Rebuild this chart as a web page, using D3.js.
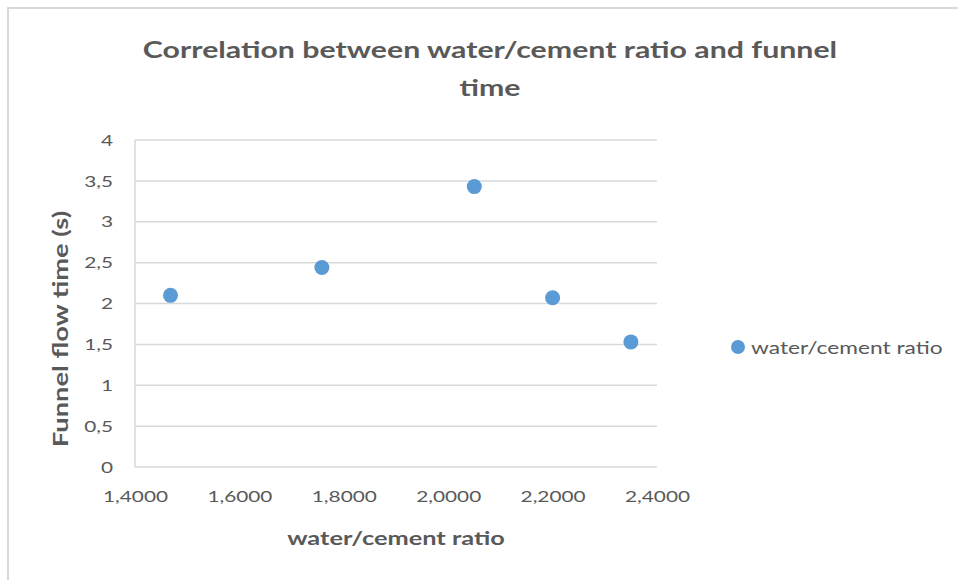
<!DOCTYPE html>
<html>
<head>
<meta charset="utf-8">
<script src="https://cdn.jsdelivr.net/npm/d3@7"></script>
<style>
  html, body { margin: 0; padding: 0; background: #fff; }
  svg { display: block; }
  text { font-family: Lato, "Open Sans", sans-serif; fill: #595959; }
</style>
</head>
<body>
<svg id="chart" width="958" height="580"></svg>
<script>
// Water/cement ratio against funnel flow time
const ratios      = [1.468, 1.758, 2.050, 2.200, 2.350];
const flowTimes   = [2.10, 2.44, 3.43, 2.07, 1.53];
const xTicks      = [1.4, 1.6, 1.8, 2.0, 2.2, 2.4];
const yTicks      = [0, 0.5, 1, 1.5, 2, 2.5, 3, 3.5, 4];
const titleLines  = ["Correlation between water/cement ratio and funnel", "time"];
const xTitle      = "water/cement ratio";
const yTitle      = "Funnel flow time (s)";
const seriesName  = "water/cement ratio";

const points = ratios.map((r, i) => ({ x: r, y: flowTimes[i] }));

const svg = d3.select("#chart");
const plot = { left: 135, right: 657, top: 140, bottom: 467 };
const markerColor = "#5B9BD5";
const gridColor = "#d9d9d9";
const WIDEN = 1.3; // horizontal widening of every label
const commaFmt = (digits) => (v) => d3.format("." + digits + "f")(v).replace(".", ",");

// stretch each text node sideways by WIDEN, keeping its anchor
function widen(sel) {
  sel.each(function () {
    const w = this.getComputedTextLength();
    d3.select(this).attr("textLength", w * WIDEN).attr("lengthAdjust", "spacingAndGlyphs");
  });
}

// chart frame
svg.append("rect")
  .attr("x", 8).attr("y", 8).attr("width", 980).attr("height", 600)
  .attr("fill", "#fff").attr("stroke", gridColor).attr("stroke-width", 2);

const x = d3.scaleLinear().domain([1.4, 2.4]).range([plot.left, plot.right]);
const y = d3.scaleLinear().domain([0, 4]).range([plot.bottom, plot.top]);

// horizontal gridlines
svg.append("g")
  .selectAll("line")
  .data(yTicks)
  .join("line")
  .attr("x1", plot.left).attr("x2", plot.right)
  .attr("y1", d => y(d)).attr("y2", d => y(d))
  .attr("stroke", gridColor).attr("stroke-width", 1.5);

// vertical axis line at the left edge
svg.append("line")
  .attr("x1", plot.left).attr("x2", plot.left)
  .attr("y1", plot.top).attr("y2", plot.bottom)
  .attr("stroke", gridColor).attr("stroke-width", 1.5);

// y axis labels
const yAxis = d3.axisLeft(y).tickValues(yTicks).tickSize(0).tickPadding(22)
  .tickFormat(d => Number.isInteger(d) ? String(d) : String(d).replace(".", ","));
svg.append("g")
  .attr("transform", `translate(${plot.left},0)`)
  .call(yAxis)
  .call(g => g.select(".domain").remove())
  .call(g => g.selectAll("text").style("font-size", "16px").attr("fill", "#595959").call(widen));

// x axis labels
const xAxis = d3.axisBottom(x).tickValues(xTicks).tickSize(0).tickPadding(24)
  .tickFormat(commaFmt(4));
svg.append("g")
  .attr("transform", `translate(0,${plot.bottom})`)
  .call(xAxis)
  .call(g => g.select(".domain").remove())
  .call(g => g.selectAll("text").style("font-size", "16px").attr("fill", "#595959").call(widen));

// markers
svg.append("g")
  .selectAll("circle")
  .data(points)
  .join("circle")
  .attr("cx", d => x(d.x))
  .attr("cy", d => y(d.y))
  .attr("r", 7.5)
  .attr("fill", markerColor);

// title
svg.append("g")
  .selectAll("text")
  .data(titleLines)
  .join("text")
  .attr("x", 490)
  .attr("y", (d, i) => 58 + i * 38)
  .attr("text-anchor", "middle")
  .style("font-size", "23.3px").style("font-weight", "bold")
  .text(d => d)
  .call(widen);

// axis titles
svg.append("text")
  .attr("x", (plot.left + plot.right) / 2).attr("y", 545)
  .attr("text-anchor", "middle")
  .style("font-size", "19.5px").style("font-weight", "bold")
  .text(xTitle)
  .call(widen);

svg.append("text")
  .attr("transform", "translate(68,329) rotate(-90)")
  .attr("text-anchor", "middle")
  .style("font-size", "21px").style("font-weight", "bold")
  .text(yTitle)
  .call(widen);

// legend
const legend = svg.append("g").attr("transform", "translate(738,347)");
legend.append("circle").attr("r", 7).attr("fill", markerColor);
legend.append("text")
  .attr("x", 13).attr("y", 6.5)
  .style("font-size", "17.5px")
  .text(seriesName)
  .call(widen);
</script>
</body>
</html>
